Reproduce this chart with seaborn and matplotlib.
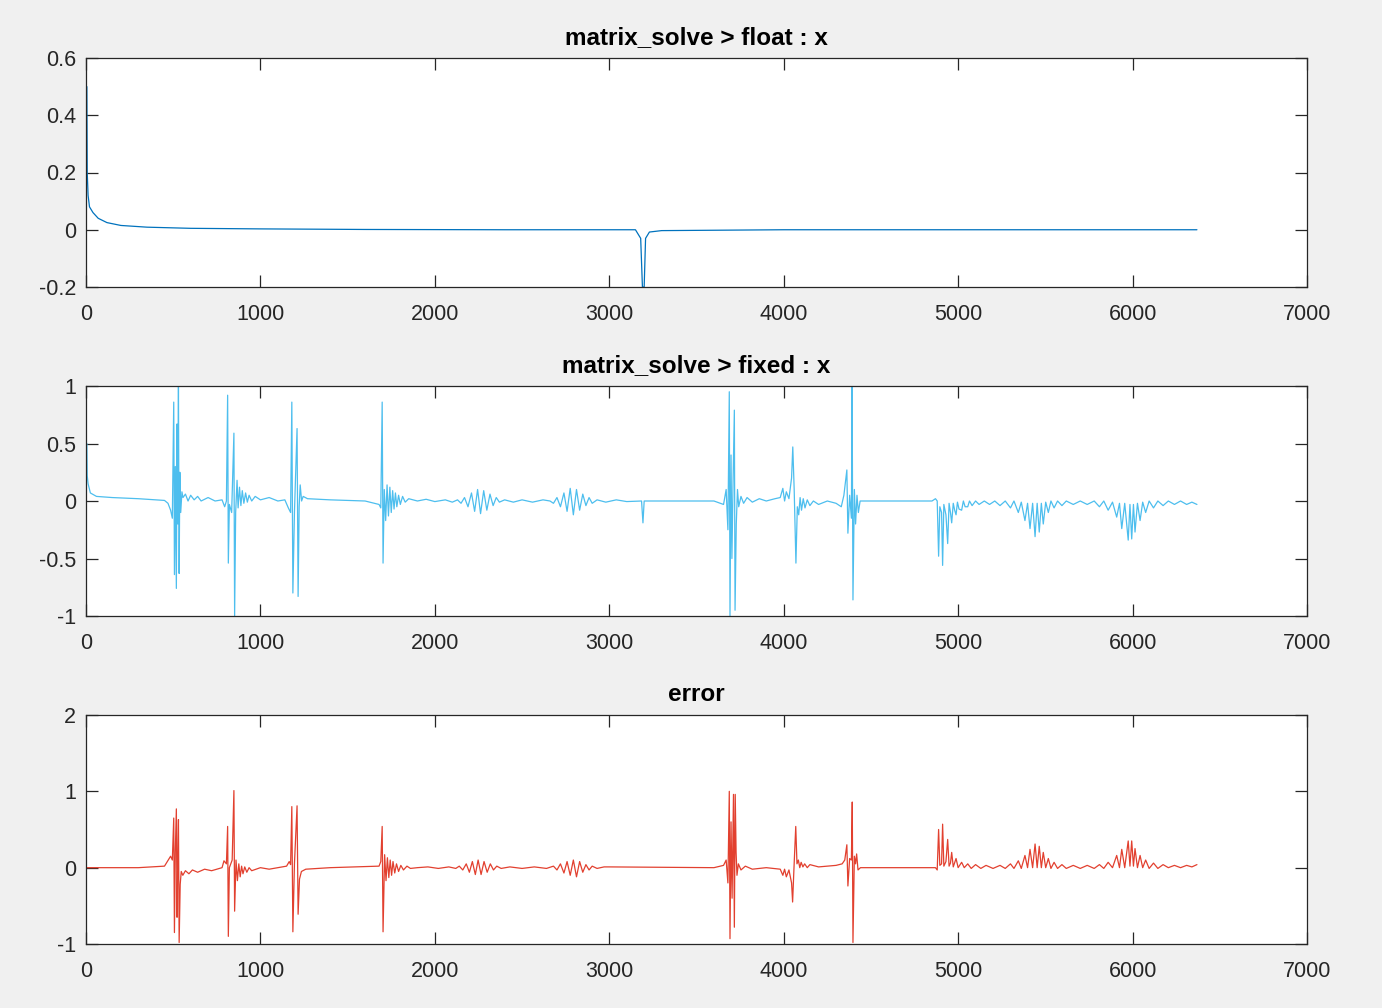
import matplotlib.pyplot as plt
import numpy as np
import seaborn as sns

# (index, value) points
float_pts = [
    (5, 0.5), (6, 0.35), (7, 0.2), (12, 0.12), (20, 0.08), (40, 0.06), (70, 0.04),
    (120, 0.025), (200, 0.015), (350, 0.009), (600, 0.005), (1000, 0.003),
    (1600, 0.001), (2400, 0.0), (3150, 0.0), (3180, -0.03), (3190, -0.2),
    (3200, -0.2), (3208, -0.03), (3230, -0.008), (3300, -0.003), (4000, 0.0),
    (6369, 0.0),
]

fixed_pts = [
    (5, 0.5), (7, 0.22), (12, 0.15), (25, 0.07), (60, 0.04), (150, 0.03), (300, 0.02),
    (450, 0.005), (470, -0.02), (485, -0.08), (495, -0.15), (503, 0.86), (507, -0.64),
    (512, 0.3), (518, -0.76), (522, 0.67), (526, -0.2), (530, 1.0), (534, -0.63),
    (538, 0.25), (543, -0.1), (550, 0.08), (556, 0.03), (570, 0.06), (585, 0.0),
    (600, 0.05), (620, 0.01), (640, 0.04), (660, 0.0), (700, 0.03), (740, 0.0),
    (780, 0.01), (795, -0.05), (805, 0.0), (812, 0.92), (816, -0.54), (822, -0.03),
    (835, -0.1), (848, 0.59), (852, -1.0), (858, -0.1), (866, 0.18), (872, -0.06),
    (880, 0.12), (888, -0.04), (896, 0.09), (905, -0.02), (915, 0.07), (925, -0.01),
    (935, 0.05), (950, 0.0), (970, 0.04), (1000, 0.01), (1050, 0.03), (1100, 0.0),
    (1140, 0.01), (1160, -0.06), (1173, -0.1), (1180, 0.86), (1186, -0.8),
    (1195, -0.1), (1210, 0.63), (1216, -0.83), (1222, -0.05), (1228, 0.14),
    (1236, 0.0), (1245, 0.04), (1270, 0.02), (1400, 0.01), (1600, 0.0),
    (1680, -0.03), (1690, -0.06), (1698, 0.86), (1703, -0.54), (1710, 0.1),
    (1718, -0.17), (1726, 0.14), (1734, -0.13), (1742, 0.12), (1750, -0.1),
    (1758, 0.09), (1766, -0.07), (1774, 0.07), (1782, -0.05), (1792, 0.05),
    (1802, -0.03), (1815, 0.04), (1830, -0.01), (1850, 0.02), (1900, 0.0),
    (1950, 0.015), (2000, -0.005), (2060, 0.01), (2100, -0.01), (2130, 0.01),
    (2150, -0.02), (2170, 0.03), (2190, -0.05), (2210, 0.07), (2228, -0.09),
    (2245, 0.1), (2262, -0.11), (2280, 0.09), (2298, -0.08), (2316, 0.06),
    (2334, -0.04), (2352, 0.03), (2370, -0.01), (2400, 0.01), (2450, -0.01),
    (2500, 0.01), (2560, -0.01), (2620, 0.01), (2660, 0.0), (2680, -0.02),
    (2700, 0.03), (2720, -0.05), (2740, 0.07), (2758, -0.09), (2776, 0.11),
    (2794, -0.12), (2812, 0.1), (2830, -0.08), (2848, 0.06), (2866, -0.04),
    (2884, 0.03), (2902, -0.02), (2930, 0.01), (2980, -0.01), (3040, 0.01),
    (3100, -0.005), (3185, 0.0), (3193, -0.19), (3200, 0.0), (3600, 0.0),
    (3655, -0.03), (3670, 0.1), (3680, -0.25), (3688, 0.95), (3692, -1.0),
    (3698, 0.4), (3703, -0.5), (3710, 0.2), (3717, 0.79), (3721, -0.95),
    (3728, -0.2), (3735, 0.1), (3742, -0.05), (3755, 0.04), (3770, -0.02),
    (3790, 0.03), (3820, -0.01), (3860, 0.02), (3900, 0.0), (3950, 0.02),
    (3980, 0.03), (3995, 0.11), (4005, 0.0), (4015, 0.08), (4030, 0.02),
    (4045, 0.2), (4052, 0.47), (4060, 0.1), (4070, -0.54), (4078, -0.05),
    (4086, -0.12), (4094, 0.03), (4102, -0.08), (4112, 0.02), (4122, -0.06),
    (4135, 0.01), (4150, -0.04), (4170, 0.0), (4200, -0.03), (4250, 0.0),
    (4300, -0.02), (4330, -0.05), (4345, 0.05), (4362, 0.27), (4368, -0.28),
    (4378, 0.05), (4388, -0.15), (4392, 1.0), (4397, -0.86), (4405, 0.1),
    (4412, -0.2), (4420, 0.05), (4428, -0.1), (4438, 0.0), (4500, 0.0),
    (4850, 0.0), (4870, 0.02), (4880, 0.0), (4888, -0.48), (4895, -0.05),
    (4905, -0.1), (4911, -0.56), (4918, -0.03), (4930, -0.12), (4940, -0.37),
    (4948, -0.02), (4956, -0.1), (4963, -0.19), (4972, -0.02), (4980, -0.08),
    (4988, -0.12), (4996, -0.01), (5005, -0.07), (5020, -0.08), (5030, 0.0),
    (5040, -0.05), (5055, -0.05), (5065, 0.0), (5080, -0.04), (5100, 0.0),
    (5120, -0.03), (5150, 0.0), (5180, -0.03), (5210, 0.0), (5240, -0.04),
    (5270, 0.0), (5300, -0.06), (5320, 0.0), (5345, -0.1), (5362, -0.01),
    (5383, -0.17), (5398, -0.02), (5412, -0.24), (5427, -0.02), (5441, -0.31),
    (5453, -0.02), (5465, -0.27), (5477, -0.02), (5488, -0.2), (5502, -0.01),
    (5517, -0.1), (5532, 0.0), (5550, -0.06), (5570, 0.0), (5595, -0.04),
    (5620, 0.0), (5660, -0.03), (5700, 0.0), (5740, -0.03), (5780, 0.0),
    (5810, -0.05), (5835, 0.0), (5860, -0.08), (5885, -0.01), (5909, -0.14),
    (5925, -0.02), (5938, -0.24), (5955, -0.02), (5975, -0.34), (5985, -0.03),
    (5995, -0.33), (6005, -0.03), (6014, -0.27), (6028, -0.02), (6043, -0.17),
    (6058, -0.01), (6075, -0.1), (6095, 0.0), (6120, -0.06), (6145, 0.0),
    (6175, -0.04), (6205, 0.0), (6240, -0.03), (6275, 0.0), (6310, -0.03),
    (6340, -0.01), (6369, -0.03),
]

error_pts = [
    (0, 0.0), (300, 0.0), (450, 0.02), (485, 0.15), (495, 0.1), (503, 0.65),
    (507, -0.85), (512, 0.2), (518, 0.77), (522, -0.65), (526, 0.1), (530, 0.63),
    (534, -0.98), (540, -0.22), (546, -0.05), (555, -0.1), (570, -0.04),
    (590, -0.08), (610, -0.03), (640, -0.06), (680, -0.02), (720, -0.04),
    (780, 0.0), (791, 0.09), (805, 0.05), (812, 0.54), (816, -0.9), (822, 0.0),
    (838, 0.1), (848, 1.01), (852, -0.57), (860, 0.1), (868, -0.17), (876, 0.05),
    (884, -0.12), (892, 0.02), (900, -0.08), (910, 0.01), (922, -0.06), (935, 0.0),
    (950, -0.04), (1000, 0.0), (1050, -0.02), (1100, 0.0), (1150, 0.02),
    (1165, 0.08), (1173, 0.04), (1180, 0.8), (1186, -0.84), (1195, 0.05),
    (1210, 0.81), (1216, -0.61), (1224, -0.15), (1235, -0.05), (1260, -0.02),
    (1400, 0.0), (1680, 0.02), (1690, 0.08), (1698, 0.54), (1703, -0.84),
    (1712, 0.17), (1720, -0.17), (1728, 0.13), (1736, -0.13), (1744, 0.1),
    (1752, -0.1), (1760, 0.08), (1770, -0.07), (1780, 0.05), (1792, -0.05),
    (1805, 0.03), (1820, -0.03), (1840, 0.02), (1860, -0.01), (1900, 0.0),
    (1960, 0.01), (2020, -0.01), (2080, 0.01), (2120, -0.01), (2140, 0.02),
    (2160, -0.03), (2180, 0.05), (2198, -0.06), (2215, 0.08), (2232, -0.09),
    (2248, 0.1), (2265, -0.09), (2282, 0.08), (2300, -0.06), (2318, 0.05),
    (2336, -0.03), (2355, 0.02), (2380, -0.01), (2430, 0.01), (2500, -0.01),
    (2570, 0.01), (2640, -0.01), (2680, 0.02), (2700, -0.03), (2720, 0.05),
    (2740, -0.07), (2758, 0.08), (2776, -0.1), (2794, 0.1), (2812, -0.12),
    (2830, 0.08), (2848, -0.06), (2866, 0.04), (2884, -0.03), (2902, 0.02),
    (2930, -0.01), (2970, 0.01), (3000, 0.01), (3600, 0.0), (3655, 0.03),
    (3670, 0.1), (3680, -0.2), (3688, 1.0), (3692, -0.93), (3698, 0.6),
    (3704, -0.4), (3712, 0.96), (3717, -0.78), (3722, 0.96), (3727, 0.2),
    (3732, -0.1), (3740, 0.05), (3755, -0.03), (3780, 0.02), (3820, -0.02),
    (3900, 0.0), (3980, -0.02), (3995, -0.1), (4005, -0.02), (4015, -0.12),
    (4030, -0.03), (4045, -0.2), (4051, -0.45), (4058, -0.05), (4069, 0.54),
    (4076, 0.05), (4084, 0.1), (4092, 0.0), (4100, 0.07), (4110, 0.01),
    (4120, 0.05), (4135, 0.0), (4150, 0.04), (4200, 0.01), (4300, 0.03),
    (4335, 0.05), (4350, 0.1), (4362, 0.3), (4368, -0.24), (4378, 0.12),
    (4388, 0.1), (4393, 0.86), (4397, -0.98), (4405, 0.15), (4412, 0.05),
    (4418, 0.18), (4426, -0.03), (4440, 0.0), (4850, 0.0), (4870, 0.0),
    (4880, -0.03), (4888, 0.5), (4895, 0.03), (4905, 0.05), (4911, 0.57),
    (4918, 0.02), (4930, 0.08), (4940, 0.37), (4948, 0.02), (4956, 0.06),
    (4963, 0.2), (4972, 0.01), (4988, 0.12), (5000, 0.0), (5020, 0.07),
    (5035, 0.0), (5055, 0.05), (5075, -0.01), (5100, 0.04), (5130, -0.01),
    (5160, 0.03), (5200, -0.01), (5240, 0.03), (5270, -0.01), (5300, 0.05),
    (5320, -0.01), (5345, 0.09), (5362, -0.01), (5383, 0.16), (5398, 0.0),
    (5412, 0.24), (5427, 0.0), (5441, 0.31), (5453, 0.0), (5465, 0.28),
    (5477, 0.0), (5488, 0.2), (5502, 0.0), (5517, 0.12), (5532, -0.01),
    (5550, 0.07), (5570, -0.01), (5595, 0.04), (5620, -0.01), (5660, 0.03),
    (5700, -0.01), (5740, 0.03), (5780, -0.01), (5810, 0.04), (5835, -0.01),
    (5860, 0.07), (5885, 0.0), (5909, 0.16), (5925, 0.0), (5938, 0.24),
    (5955, 0.0), (5975, 0.35), (5985, 0.02), (5995, 0.35), (6005, 0.02),
    (6014, 0.25), (6028, 0.0), (6043, 0.16), (6058, 0.0), (6075, 0.1),
    (6095, -0.01), (6120, 0.06), (6145, -0.01), (6175, 0.04), (6205, 0.0),
    (6240, 0.03), (6275, 0.0), (6310, 0.03), (6340, 0.01), (6369, 0.04),
]

titles = ["matrix_solve > float : x", "matrix_solve > fixed : x", "error"]
colors = ["#0072BD", "#4DBEEE", "#E2402F"]
x_ticks = [0, 1000, 2000, 3000, 4000, 5000, 6000, 7000]
y_ticks = [[-0.2, 0, 0.2, 0.4, 0.6], [-1, -0.5, 0, 0.5, 1], [-1, 0, 1, 2]]
y_labels = [["-0.2", "0", "0.2", "0.4", "0.6"],
            ["-1", "-0.5", "0", "0.5", "1"],
            ["-1", "0", "1", "2"]]

sns.set_theme(style="ticks")
plt.rcParams['font.family'] = ['Liberation Sans', 'DejaVu Sans']
plt.rcParams['axes.unicode_minus'] = False

fig = plt.figure(figsize=(13.82, 10.08), dpi=100, facecolor="#f0f0f0")
W, H = 1382, 1008
left, right = 86, 1307
tops = [58, 386, 715]
bottoms = [287, 616, 944]

for i, pts in enumerate([float_pts, fixed_pts, error_pts]):
    ax = fig.add_axes([left / W, 1 - bottoms[i] / H, (right - left) / W,
                       (bottoms[i] - tops[i]) / H])
    ax.set_facecolor("white")
    xs = np.array([p[0] for p in pts])
    ys = np.array([p[1] for p in pts])
    sns.lineplot(x=xs, y=ys, ax=ax, color=colors[i], linewidth=0.9,
                 estimator=None, sort=False)
    ax.set_xlim(0, 7000)
    ax.set_ylim(y_ticks[i][0], y_ticks[i][-1])
    ax.set_xticks(x_ticks)
    ax.set_xticklabels([str(t) for t in x_ticks])
    ax.set_yticks(y_ticks[i])
    ax.set_yticklabels(y_labels[i])
    ax.tick_params(direction="in", length=8.5, width=0.9, color="#262626",
                   labelsize=15.5, labelcolor="#262626",
                   top=True, right=True)
    ax.tick_params(axis="x", pad=12)
    ax.tick_params(axis="y", pad=7)
    for s in ax.spines.values():
        s.set_color("#262626")
        s.set_linewidth(0.9)
        s.set_visible(True)
    ax.set_title(titles[i], fontsize=17.5, fontweight="bold", color="black", pad=10)
    ax.set_xlabel("")
    ax.set_ylabel("")

fig.savefig("out.png", dpi=100, facecolor=fig.get_facecolor())
